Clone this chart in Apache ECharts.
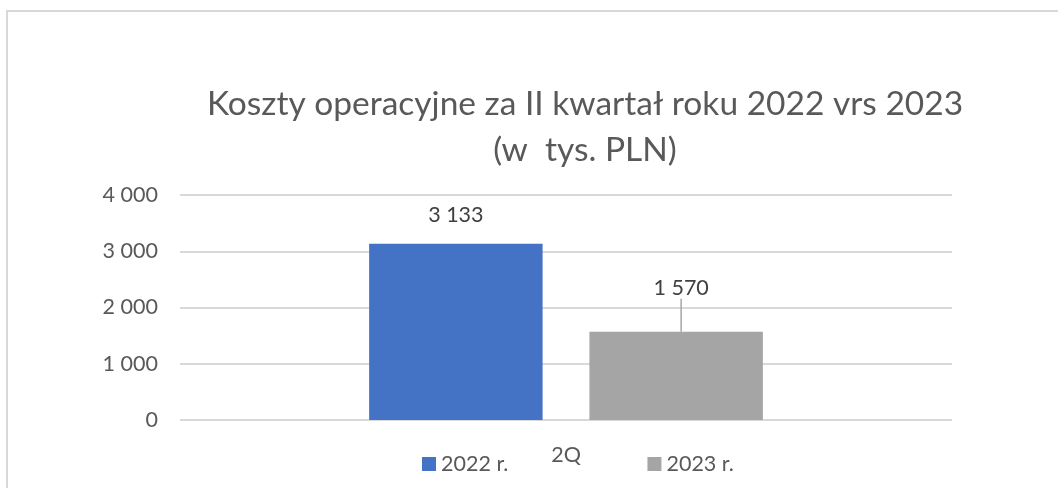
<!DOCTYPE html>
<html>
<head>
<meta charset="utf-8">
<script src="https://cdn.jsdelivr.net/npm/echarts@6/dist/echarts.min.js"></script>
<style>
  html, body { margin: 0; padding: 0; background: #fff; }
  #chart { width: 1058px; height: 488px; }
</style>
</head>
<body>
<div id="chart"></div>
<script>
const titleText = 'Koszty operacyjne za II kwartał roku 2022 vrs 2023\n(w  tys. PLN)';
const categories = ['2Q'];
const seriesNames = ['2022 r.', '2023 r.'];
const values2022 = [3133];
const values2023 = [1570];
const yTicks = [0, 1000, 2000, 3000, 4000];

const FONT = 'Lato';
const fmt = v => String(v).replace(/\B(?=(\d{3})+(?!\d))/g, ' ');

const chart = echarts.init(document.getElementById('chart'), null, { renderer: 'canvas' });
chart.setOption({
  backgroundColor: '#ffffff',
  animation: false,
  graphic: [
    { type: 'line', shape: { x1: 7, y1: 11, x2: 7, y2: 488 }, style: { stroke: '#d9d9d9', lineWidth: 2 } },
    { type: 'line', shape: { x1: 6, y1: 11, x2: 1058, y2: 11 }, style: { stroke: '#d9d9d9', lineWidth: 2 } }
  ],
  title: {
    text: titleText,
    left: 580,
    textAlign: 'center',
    top: 76,
    textStyle: { fontFamily: FONT, fontSize: 33.5, fontWeight: 'normal', color: '#595959', lineHeight: 46 }
  },
  legend: {
    data: seriesNames,
    left: 417,
    top: 448,
    icon: 'rect',
    itemWidth: 14,
    itemHeight: 14,
    itemGap: 139,
    textStyle: { fontFamily: FONT, fontSize: 21.5, color: '#595959', width: 70 }
  },
  grid: { left: 180, right: 106, top: 195, bottom: 68, containLabel: false },
  xAxis: {
    type: 'category',
    data: categories,
    axisLine: { show: false },
    axisTick: { show: false },
    axisLabel: { fontFamily: FONT, fontSize: 21.5, color: '#595959', margin: 24 }
  },
  yAxis: {
    type: 'value',
    min: yTicks[0],
    max: yTicks[yTicks.length - 1],
    interval: 1000,
    axisLine: { show: false },
    axisTick: { show: false },
    splitLine: { lineStyle: { color: '#d9d9d9', width: 2 } },
    axisLabel: { fontFamily: FONT, fontSize: 21.5, color: '#595959', margin: 22, formatter: fmt }
  },
  series: [
    {
      name: seriesNames[0],
      type: 'bar',
      data: values2022,
      barGap: '27%',
      barCategoryGap: '49%',
      itemStyle: { color: '#4472C4' },
      label: { show: true, position: 'top', distance: 18, fontFamily: FONT, fontSize: 21.5, color: '#404040', formatter: p => fmt(p.value) }
    },
    {
      name: seriesNames[1],
      type: 'bar',
      data: values2023,
      barGap: '27%',
      barCategoryGap: '49%',
      itemStyle: { color: '#A5A5A5' },
      label: { show: true, position: 'top', distance: 18, fontFamily: FONT, fontSize: 21.5, color: '#404040', formatter: p => fmt(p.value) },
      labelLayout: { dx: 5, dy: -15 },
      labelLine: { show: true, lineStyle: { color: '#a6a6a6', width: 1.5 } }
    }
  ]
});
</script>
</body>
</html>
